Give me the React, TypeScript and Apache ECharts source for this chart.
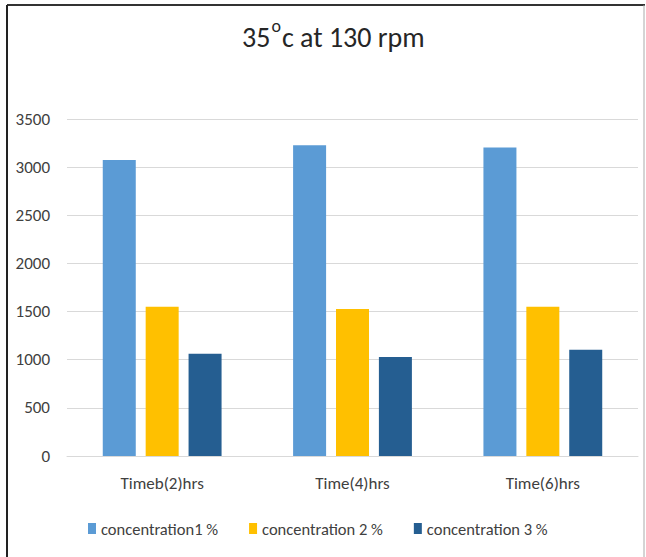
import React, { useEffect, useRef } from "react";
import * as echarts from "echarts";

const categories = ["Timeb(2)hrs", "Time(4)hrs", "Time(6)hrs"];
const seriesNames = ["concentration1 %", "concentration 2 %", "concentration 3 %"];
const conc1 = [3075, 3228, 3205];
const conc2 = [1550, 1528, 1550];
const conc3 = [1063, 1028, 1103];
const colors = ["#5B9BD5", "#FFC000", "#255E91"];
const yTicks = { min: 0, max: 3500, interval: 500 };

const FONT = "Carlito, Calibri, 'Liberation Sans Narrow', 'Noto Sans', sans-serif";

export default function App() {
  const ref = useRef<HTMLDivElement>(null);
  useEffect(() => {
    if (!ref.current) return;
    const chart = echarts.init(ref.current, undefined, { renderer: "svg" });
    const data = [conc1, conc2, conc3];
    chart.setOption({
      animation: false,
      backgroundColor: "#ffffff",
      title: {
        text: "{n|35}{s|o}{n|c at 130 rpm}",
        left: 237,
        top: 12,
        textStyle: {
          fontWeight: "normal",
          rich: {
            n: { fontFamily: FONT, fontSize: 28, fontWeight: "normal", color: "#262626", verticalAlign: "bottom", lineHeight: 34 },
            s: { fontFamily: FONT, fontSize: 18, fontWeight: "normal", color: "#262626", verticalAlign: "top", lineHeight: 34, padding: [0, 1, 12, 1] },
          },
        },
      },
      grid: { left: 67, right: 8, top: 119, bottom: 101 },
      xAxis: {
        type: "category",
        data: categories,
        axisLine: { lineStyle: { color: "#d9d9d9", width: 1 } },
        axisTick: { show: false },
        axisLabel: { color: "#404040", fontSize: 17, fontFamily: FONT, margin: 19 },
      },
      yAxis: {
        type: "value",
        min: yTicks.min,
        max: yTicks.max,
        interval: yTicks.interval,
        axisLine: { show: false },
        axisTick: { show: false },
        splitLine: { lineStyle: { color: "#d9d9d9", width: 1 } },
        axisLabel: { color: "#404040", fontSize: 17, fontFamily: FONT, margin: 17, formatter: (v: number) => String(v) },
      },
      legend: {
        top: 515,
        left: 83,
        itemWidth: 8,
        itemHeight: 11,
        itemGap: 31,
        icon: "rect",
        textStyle: { color: "#404040", fontSize: 16.5, fontFamily: FONT, padding: [0, 0, 0, 0] },
        data: seriesNames,
      },
      series: seriesNames.map((name, i) => ({
        name,
        type: "bar",
        data: data[i],
        barWidth: 33,
        barGap: "30%",
        itemStyle: { color: colors[i] },
      })),
      graphic: [
        { type: "line", shape: { x1: 7, y1: 5, x2: 645, y2: 5 }, style: { stroke: "#333", lineWidth: 2 } },
        { type: "line", shape: { x1: 7, y1: 5, x2: 7, y2: 557 }, style: { stroke: "#222", lineWidth: 2 } },
        { type: "line", shape: { x1: 644, y1: 5, x2: 644, y2: 557 }, style: { stroke: "#aaa", lineWidth: 1 } },
      ],
    });
    return () => chart.dispose();
  }, []);
  return (
    <div style={{ position: "absolute", left: 0, top: 0, width: 646, height: 557 }}>
      <div ref={ref} style={{ width: 646, height: 557 }} />
    </div>
  );
}
